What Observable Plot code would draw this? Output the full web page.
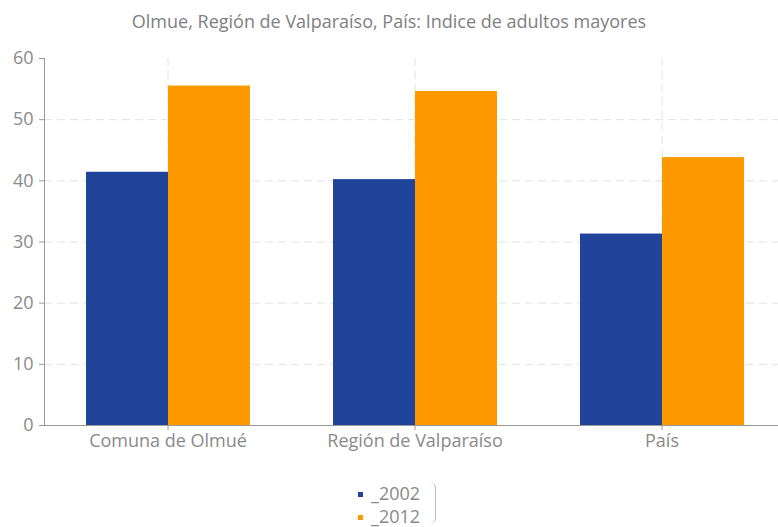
<!DOCTYPE html>
<html>
<head>
<meta charset="utf-8">
<script src="https://cdn.jsdelivr.net/npm/d3@7"></script>
<script src="https://cdn.jsdelivr.net/npm/@observablehq/plot@0.6"></script>
<style>
  body { margin: 0; background: #fff; font-family: "Open Sans", sans-serif; }
  #wrap { position: relative; width: 778px; height: 527px; overflow: hidden; }
  #title { position: absolute; top: 8px; left: 0; width: 778px; text-align: center; font-size: 18px; line-height: 26px; color: #808080; }
  #chart { position: absolute; top: 42px; left: 0; width: 778px; overflow: hidden; }
  #legend { position: absolute; top: 482px; left: 352px; width: 84px; height: 42px; box-sizing: border-box; padding-left: 6px;
            border-right: 1px solid #bbb; border-radius: 0 6px 6px 0; font-size: 18px; line-height: 23px; color: #8a8a8a; }
  .sw { display: inline-block; width: 5px; height: 5px; margin-right: 8px; vertical-align: middle; position: relative; top: -1px; }
</style>
</head>
<body>
<div id="wrap">
  <div id="title">Olmue, Región de Valparaíso, País: Indice de adultos mayores</div>
  <div id="chart"></div>
  <div id="legend"></div>
</div>
<script>
const categories = ["Comuna de Olmué", "Región de Valparaíso", "País"];
const series = ["_2002", "_2012"];
const values2002 = [41.4, 40.2, 31.3];
const values2012 = [55.5, 54.6, 43.8];
const colors = ["#21449B", "#FF9900"];
const yTicks = [0, 10, 20, 30, 40, 50, 60];
const gridTicks = [10, 20, 30, 40, 50];

const data = categories.flatMap((c, i) => [
  {category: c, series: series[0], value: values2002[i]},
  {category: c, series: series[1], value: values2012[i]}
]);

const chart = Plot.plot({
  width: 778,
  height: 418,
  marginTop: 16,
  marginBottom: 35,
  marginLeft: 43,
  marginRight: 0,
  style: {fontFamily: "Open Sans", fontSize: "18px", color: "#8a8a8a", background: "#fff", overflow: "visible"},
  fx: {domain: categories, range: [43, 786], padding: 0, label: null},
  x: {domain: series, paddingInner: 0, paddingOuter: 0.504, axis: null},
  y: {domain: [0, 60], label: null},
  color: {domain: series, range: colors},
  marks: [
    Plot.ruleY(gridTicks, {stroke: "#e2e2e2", strokeDasharray: "8,5"}),
    Plot.gridFx({stroke: "#e2e2e2", strokeOpacity: 1, strokeDasharray: "8,5"}),
    Plot.barY(data, {fx: "category", x: "series", y: "value", fill: "series"}),
    Plot.ruleY([0], {stroke: "#999"}),
    Plot.axisY(yTicks, {tickSize: 5, tickPadding: 6, label: null, stroke: "#999", fill: "#8a8a8a"}),
    Plot.axisFx({anchor: "bottom", tickSize: 5, tickPadding: 4, label: null, stroke: "#999", fill: "#8a8a8a"}),
    Plot.frame({anchor: "left", stroke: "#999", facetAnchor: "left"})
  ]
});
document.getElementById("chart").appendChild(chart);

const legend = document.getElementById("legend");
series.forEach((s, i) => {
  const row = document.createElement("div");
  const sw = document.createElement("span");
  sw.className = "sw";
  sw.style.background = colors[i];
  row.appendChild(sw);
  row.appendChild(document.createTextNode(s));
  legend.appendChild(row);
});
</script>
</body>
</html>
